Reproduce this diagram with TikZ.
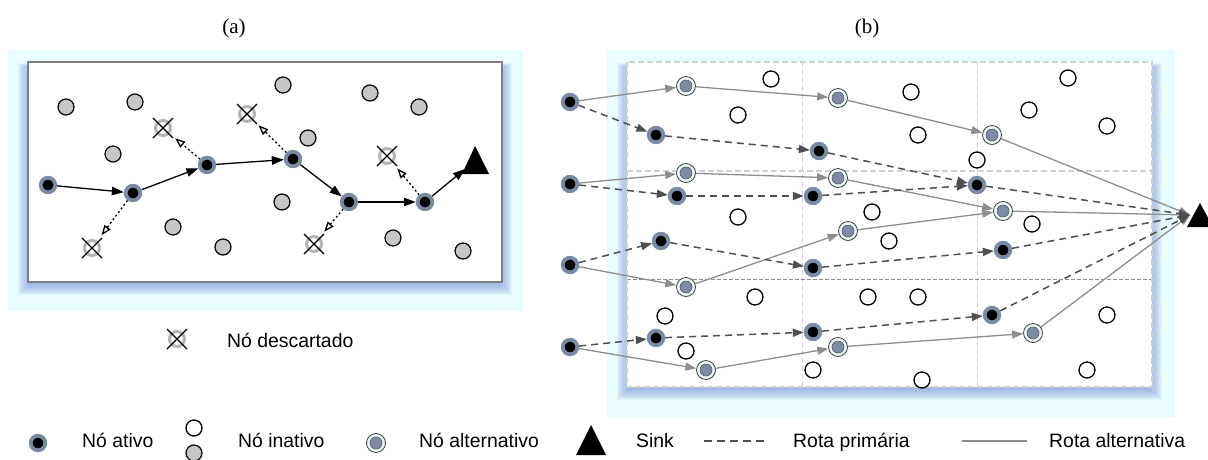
\documentclass[tikz,border=0pt]{standalone}
\usepackage{fontspec}
\setmainfont{Liberation Serif}
\newfontfamily\legendfont{Liberation Sans}
\usetikzlibrary{arrows.meta}

\definecolor{bgcyan}{HTML}{E9FDFE}
\definecolor{shblue}{HTML}{7890DA}
\definecolor{ringblue}{HTML}{7A8AA2}
\definecolor{innerblue}{HTML}{7D8CA4}
\definecolor{paleface}{HTML}{EAF7F8}
\definecolor{inactgray}{HTML}{C6C6C6}
\definecolor{discgray}{HTML}{B4B4B4}
\definecolor{altline}{HTML}{8E8E8E}
\definecolor{primline}{HTML}{4F4F4F}
\definecolor{gridgray}{HTML}{D0D0D0}
\definecolor{boxedge}{HTML}{7E7E7E}

\pgfdeclarelayer{bg}
\pgfdeclarelayer{edgelayer}
\pgfsetlayers{bg,edgelayer,main}

\tikzset{
  actnode/.style={circle, fill=black, draw=ringblue, line width=3.8pt,
    minimum size=14.6pt, inner sep=0pt},
  altnode/.style={circle, fill=paleface, draw=black!75, line width=0.8pt,
    minimum size=19pt, inner sep=0pt,
    path picture={\fill[innerblue, draw=black!65, line width=0.6pt]
      (path picture bounding box.center) circle (6pt);}},
  idlegray/.style={circle, fill=inactgray, draw=black, line width=1.2pt,
    minimum size=16pt, inner sep=0pt},
  idlewhite/.style={circle, fill=white, draw=black, line width=1.3pt,
    minimum size=16pt, inner sep=0pt},
  discnode/.style={circle, draw=discgray, line width=3pt,
    minimum size=15pt, inner sep=0pt},
  cross/.style={line width=1.1pt, black},
  fwd/.style={-{Triangle[length=12pt,width=8.5pt]}, line width=1.3pt, black},
  drop/.style={-{Triangle[open,length=10pt,width=7.5pt]}, line width=1.3pt,
    black, dash pattern=on 2pt off 2.5pt, shorten >=7pt},
  altroute/.style={-{Triangle[length=11pt,width=8pt]}, line width=1.3pt, altline},
  primroute/.style={-{Triangle[length=11pt,width=8pt]}, line width=1.5pt,
    primline, dash pattern=on 7pt off 5pt},
  legendtext/.style={font=\legendfont\fontsize{19.4}{23}\selectfont,
    anchor=base west, inner sep=0pt},
  panellabel/.style={font=\fontsize{21}{24}\selectfont, anchor=base, inner sep=0pt},
}

% discarded node: grey ring crossed out
\newcommand\dropped[2]{%
  \node[discnode] (#1) at (#2) {};
  \draw[cross] ([shift={(-10,-10)}]#1.center) -- ([shift={(10,10)}]#1.center)
               ([shift={(-10,10)}]#1.center) -- ([shift={(10,-10)}]#1.center);}

% soft blue shadow under a panel box (top-left x,y ; bottom-right x,y)
\newcommand\softshadow[4]{%
  \foreach \k in {1,...,12}{%
    \fill[shblue, opacity=0.075]
      (#1-\k*1.1+3, #2-\k*0.5+7) rectangle (#3+\k*1.1-3, #4+\k*1.0+1);}}

\begin{document}
\begin{tikzpicture}[x=1pt, y=-1pt]
\useasboundingbox (0,0) rectangle (1208,459);

% ---------------- panel backgrounds ----------------
\begin{pgfonlayer}{bg}
  \fill[bgcyan] (8,50) rectangle (523,311);
  \fill[bgcyan] (607,50) rectangle (1175,417);
  \softshadow{28}{62}{502}{282}
  \softshadow{627}{62}{1152}{387}
  \fill[white] (28,62) rectangle (502,282);
  \draw[boxedge, line width=1.2pt] (28,62) rectangle (502,282);
  \fill[white] (627,62) rectangle (1152,387);
  % grid of the sensing field
  \draw[gridgray, line width=1pt, dash pattern=on 5pt off 3pt]
    (802,62) -- (802,387) (977,62) -- (977,387);
  \draw[gridgray, line width=1.6pt, dash pattern=on 6pt off 3pt] (627,171) -- (1152,171);
  \draw[black!45, line width=0.8pt, dash pattern=on 4pt off 2pt] (627,279) -- (1152,279);
  \draw[gridgray, line width=1.2pt, dash pattern=on 6pt off 3pt] (627,62) rectangle (1152,387);
\end{pgfonlayer}

\node[panellabel] (labA) at (234,33) {(a)};
\node[panellabel] (labB) at (867,33) {(b)};

% ---------------- panel (a) ----------------
\foreach \p [count=\i] in {{66,107},{135,102},{113,154},{173,227},{223,247},{283,85},
    {282,202},{370,93},{419,107},{308,138},{393,238},{463,251}}
  \node[idlegray] (ga\i) at (\p) {};

\node[actnode] (a1) at (48,185) {};
\node[actnode] (a2) at (133,193) {};
\node[actnode] (a3) at (207,165) {};
\node[actnode] (a4) at (293,159) {};
\node[actnode] (a5) at (349,202) {};
\node[actnode] (a6) at (425,202) {};

\dropped{d1}{92,248}
\dropped{d2}{163,128}
\dropped{d3}{247,114}
\dropped{d4}{314,244}
\dropped{d5}{387,156}

\fill[black] (462,174) -- (475,146) -- (489,174) -- cycle;
\coordinate (sinkA) at (465,169);

\begin{pgfonlayer}{edgelayer}
  \draw[fwd] (a1) -- (a2);
  \draw[fwd] (a2) -- (a3);
  \draw[fwd] (a3) -- (a4);
  \draw[fwd] (a4) -- (a5);
  \draw[fwd] (a5) -- (a6);
  \draw[fwd] (a6) -- (sinkA);
  \draw[drop] (a2) -- (d1);
  \draw[drop] (a3) -- (d2);
  \draw[drop] (a4) -- (d3);
  \draw[drop] (a5) -- (d4);
  \draw[drop] (a6) -- (d5);
\end{pgfonlayer}

% ---------------- panel (b) ----------------
\foreach \p [count=\i] in {{771,79},{911,92},{1068,78},{738,115},{918,135},{1029,110},
    {1107,126},{977,160},{738,217},{872,212},{1032,224},{889,241},{755,297},{868,297},
    {918,297},{665,316},{1107,315},{686,351},{813,370},{922,380},{1087,370}}
  \node[idlewhite] (wb\i) at (\p) {};

% sources
\node[actnode] (s1) at (570,102) {};
\node[actnode] (s2) at (570,184) {};
\node[actnode] (s3) at (570,265) {};
\node[actnode] (s4) at (570,347) {};

% primary route relays
\node[actnode] (p1) at (656,135) {};
\node[actnode] (p2) at (819,151) {};
\node[actnode] (p3) at (977,185) {};
\node[actnode] (q1) at (677,196) {};
\node[actnode] (q2) at (813,196) {};
\node[actnode] (r1) at (661,241) {};
\node[actnode] (r2) at (813,268) {};
\node[actnode] (r3) at (1003,250) {};
\node[actnode] (t1) at (656,338) {};
\node[actnode] (t2) at (813,332) {};
\node[actnode] (t3) at (992,315) {};

% alternative route relays
\node[altnode] (b1) at (686,86) {};
\node[altnode] (b2) at (838,98) {};
\node[altnode] (b3) at (992,135) {};
\node[altnode] (c1) at (686,173) {};
\node[altnode] (c2) at (838,178) {};
\node[altnode] (c3) at (1003,211) {};
\node[altnode] (e1) at (686,287) {};
\node[altnode] (e2) at (848,231) {};
\node[altnode] (f1) at (706,370) {};
\node[altnode] (f2) at (838,347) {};
\node[altnode] (f3) at (1033,333) {};

\fill[black] (1187,227) -- (1200,203) -- (1213,227) -- cycle;
\coordinate (sinkB) at (1190,215);

\begin{pgfonlayer}{edgelayer}
  \draw[altroute] (s1) -- (b1);
  \draw[altroute] (b1) -- (b2);
  \draw[altroute] (b2) -- (b3);
  \draw[altroute] (b3) -- (sinkB);
  \draw[altroute] (s2) -- (c1);
  \draw[altroute] (c1) -- (c2);
  \draw[altroute] (c2) -- (c3);
  \draw[altroute] (c3) -- (sinkB);
  \draw[altroute] (s3) -- (e1);
  \draw[altroute] (e1) -- (e2);
  \draw[altroute] (e2) -- (c3);
  \draw[altroute] (s4) -- (f1);
  \draw[altroute] (f1) -- (f2);
  \draw[altroute] (f2) -- (f3);
  \draw[altroute] (f3) -- (sinkB);

  \draw[primroute] (s1) -- (p1);
  \draw[primroute] (p1) -- (p2);
  \draw[primroute] (p2) -- (p3);
  \draw[primroute] (p3) -- (sinkB);
  \draw[primroute] (s2) -- (q1);
  \draw[primroute] (q1) -- (q2);
  \draw[primroute] (q2) -- (p3);
  \draw[primroute] (s3) -- (r1);
  \draw[primroute] (r1) -- (r2);
  \draw[primroute] (r2) -- (r3);
  \draw[primroute] (r3) -- (sinkB);
  \draw[primroute] (s4) -- (t1);
  \draw[primroute] (t1) -- (t2);
  \draw[primroute] (t2) -- (t3);
  \draw[primroute] (t3) -- (sinkB);
\end{pgfonlayer}

% ---------------- legend ----------------
\dropped{lgdisc}{177,339}
\node[legendtext] (lgdisct) at (227,347) {Nó descartado};

\node[actnode] (lgact) at (38,443) {};
\node[legendtext] (lgactt) at (82,447) {Nó ativo};
\node[idlewhite] (lgidle1) at (194,428) {};
\node[idlegray] (lgidle2) at (194,453) {};
\node[legendtext] (lgidlet) at (238,447) {Nó inativo};
\node[altnode] (lgalt) at (376,443) {};
\node[legendtext] (lgaltt) at (419,447) {Nó alternativo};
\fill[black] (576,455) -- (591,425) -- (606,455) -- cycle;
\node[legendtext] (lgsinkt) at (636,447) {Sink};
\coordinate (lgp1) at (704,441);
\coordinate (lgp2) at (768,441);
\draw[primline, line width=1.3pt, dash pattern=on 8pt off 5pt] (lgp1) -- (lgp2);
\node[legendtext] (lgprimt) at (793,447) {Rota primária};
\coordinate (lga1) at (962,441);
\coordinate (lga2) at (1027,441);
\draw[altline, line width=1.3pt] (lga1) -- (lga2);
\node[legendtext] (lgaltrt) at (1049,447) {Rota alternativa};
\end{tikzpicture}
\end{document}
